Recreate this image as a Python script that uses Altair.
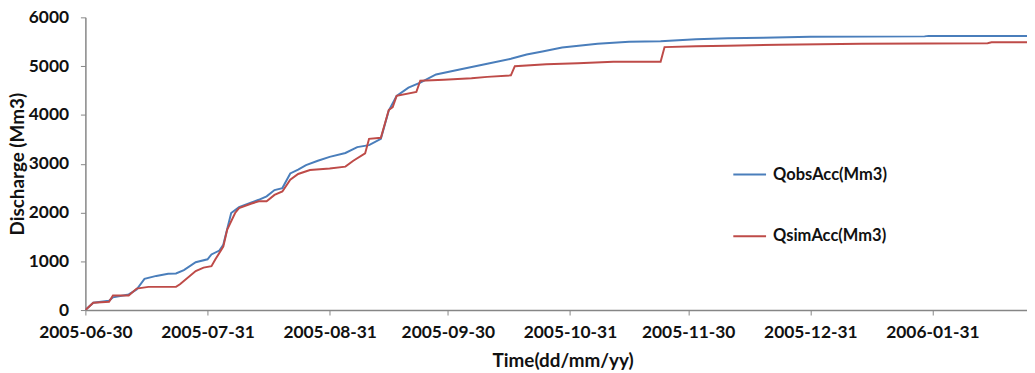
import altair as alt
import pandas as pd

start = pd.Timestamp("2005-06-30")

# days since 2005-06-30 and accumulated discharge (Mm3)
obs_day = [0, 2, 6, 7, 11, 13, 15, 18, 21, 23, 25, 28, 31, 32, 34, 35, 37, 39, 42, 44,
           46, 48, 50, 52, 54, 56, 59, 62, 66, 69, 72, 75, 77, 79, 82, 85, 89, 95, 102,
           108, 112, 116, 121, 130, 138, 146, 155, 163, 172, 184, 213, 214, 239]
obs_val = [0, 150, 190, 260, 320, 420, 640, 700, 745, 750, 820, 980, 1040, 1140, 1220,
           1340, 1990, 2110, 2200, 2260, 2330, 2460, 2500, 2800, 2880, 2970, 3060, 3140,
           3220, 3340, 3380, 3510, 4090, 4390, 4560, 4660, 4830, 4930, 5050, 5150, 5240,
           5300, 5380, 5460, 5500, 5510, 5550, 5570, 5580, 5600, 5610, 5620, 5620]

sim_day = [0, 2, 6, 7, 11, 13, 16, 23, 24, 28, 30, 32, 33, 35, 36, 38, 39, 42, 44, 46,
           48, 50, 52, 54, 57, 62, 66, 68, 71, 72, 75, 77, 78, 79, 84, 85, 91, 98, 102,
           108, 109, 117, 125, 134, 146, 147, 155, 163, 176, 197, 229, 230, 239]
sim_val = [0, 150, 170, 300, 300, 440, 475, 475, 530, 800, 870, 900, 1040, 1300, 1650,
           1990, 2090, 2180, 2230, 2230, 2360, 2430, 2670, 2790, 2870, 2900, 2940, 3060,
           3210, 3510, 3530, 4100, 4160, 4390, 4470, 4700, 4720, 4750, 4780, 4810, 5000,
           5040, 5060, 5090, 5090, 5390, 5410, 5420, 5440, 5460, 5470, 5490, 5490]

series_names = ["QobsAcc(Mm3)", "QsimAcc(Mm3)"]
series_colors = ["#4A7EBB", "#BE4B48"]
tick_dates = [(2005, 6, 30), (2005, 7, 31), (2005, 8, 31), (2005, 9, 30),
              (2005, 10, 31), (2005, 11, 30), (2005, 12, 31), (2006, 1, 31)]
y_ticks = [0, 1000, 2000, 3000, 4000, 5000, 6000]

df = pd.concat([
    pd.DataFrame({"date": (start + pd.to_timedelta(obs_day, unit="D")).strftime("%Y-%m-%dT00:00:00"),
                  "value": obs_val, "series": series_names[0]}),
    pd.DataFrame({"date": (start + pd.to_timedelta(sim_day, unit="D")).strftime("%Y-%m-%dT00:00:00"),
                  "value": sim_val, "series": series_names[1]}),
], ignore_index=True)

FONT = "Lato"
AX = "#868686"
TXT = "#111111"

x = alt.X(
    "date:T",
    scale=alt.Scale(domain=[alt.DateTime(year=2005, month=6, date=30),
                            alt.DateTime(year=2006, month=2, date=24)]),
    axis=alt.Axis(
        values=[alt.DateTime(year=y, month=m, date=d) for (y, m, d) in tick_dates],
        format="%Y-%m-%d", grid=False, tickSize=5, tickColor=AX, domainColor=AX,
        domainWidth=1.5, labelFont=FONT, labelFontWeight="bold", labelFontSize=17.5,
        labelColor=TXT, labelPadding=9, labelFlush=False, labelOverlap=False,
        title="Time(dd/mm/yy)", titleFont=FONT,
        titleFontWeight="bold", titleFontSize=19, titleColor=TXT, titleX=481, titleY=51,
        titleBaseline="middle",
    ),
)
y = alt.Y(
    "value:Q",
    scale=alt.Scale(domain=[0, 6000], nice=False),
    axis=alt.Axis(
        values=y_ticks, format="d", grid=False, tickSize=5, tickColor=AX, domainColor=AX,
        domainWidth=1.5, labelFont=FONT, labelFontWeight="bold", labelFontSize=17.5,
        labelColor=TXT, labelPadding=12, labelFlush=False,
        title="Discharge (Mm3)", titleFont=FONT,
        titleFontWeight="bold", titleFontSize=19, titleColor=TXT, titleX=-68,
        titleBaseline="middle",
    ),
)
color = alt.Color(
    "series:N",
    scale=alt.Scale(domain=series_names, range=series_colors),
    legend=alt.Legend(
        title=None, orient="none", legendX=652, legendY=141, symbolType="stroke",
        symbolSize=1089, symbolStrokeWidth=2, labelFont=FONT, labelFontWeight="bold",
        labelFontSize=16.6, labelColor=TXT, rowPadding=35, labelOffset=6,
    ),
)

chart = (
    alt.Chart(df)
    .mark_line(strokeWidth=2, clip=True)
    .encode(x=x, y=y, color=color)
    .properties(
        width=949, height=295,
        padding={"left": 78, "top": 8, "right": 0, "bottom": 60},
        autosize=alt.AutoSizeParams(type="none"),
    )
    .configure_view(stroke=None)
)

chart.save("out.html", embed_options={"renderer": "svg", "actions": False})
